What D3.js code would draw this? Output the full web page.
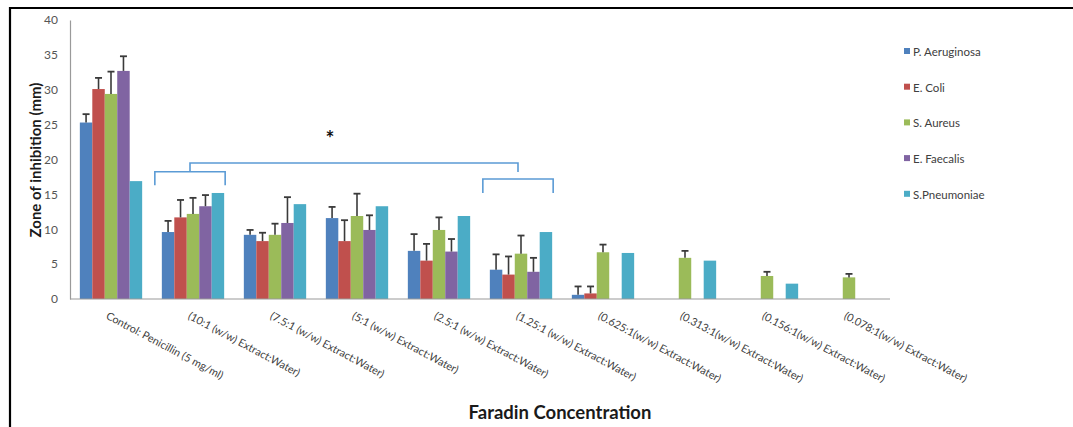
<!DOCTYPE html>
<html><head><meta charset="utf-8">
<script src="https://cdn.jsdelivr.net/npm/d3@7"></script>
<style>html,body{margin:0;padding:0;background:#fff;}svg{display:block;font-family:Lato,"Open Sans",sans-serif;}</style>
</head><body><svg id="c" width="1073" height="427"></svg>
<script>
const categories = ["Control: Penicillin (5 mg/ml)","(10:1 (w/w) Extract:Water)","(7.5:1 (w/w) Extract:Water)","(5:1 (w/w) Extract:Water)","(2.5:1 (w/w) Extract:Water)","(1.25:1 (w/w) Extract:Water)","(0.625:1(w/w) Extract:Water)","(0.313:1(w/w) Extract:Water)","(0.156:1(w/w) Extract:Water)","(0.078:1(w/w) Extract:Water)"];
const seriesNames = ["P. Aeruginosa","E. Coli","S. Aureus","E. Faecalis","S.Pneumoniae"];
const seriesColors = ["#4F81BD","#C0504D","#9BBB59","#8064A2","#4BACC6"];
const paValues = [25.3, 9.6, 9.2, 11.6, 6.9, 4.2, 0.6, 0, 0, 0];
const paErrors = [1.2, 1.6, 0.7, 1.6, 2.4, 2.2, 1.2, null, null, null];
const ecValues = [30.1, 11.7, 8.3, 8.3, 5.5, 3.5, 0.8, 0, 0, 0];
const ecErrors = [1.6, 2.5, 1.2, 3.0, 2.4, 2.6, 1.0, null, null, null];
const saValues = [29.4, 12.2, 9.2, 11.9, 9.9, 6.5, 6.7, 5.9, 3.3, 3.1];
const saErrors = [3.2, 2.3, 1.6, 3.2, 1.8, 2.6, 1.1, 1.0, 0.6, 0.5];
const efValues = [32.7, 13.3, 10.9, 9.9, 6.8, 3.9, 0, 0, 0, 0];
const efErrors = [2.1, 1.6, 3.7, 2.1, 1.8, 2.0, null, null, null, null];
const spValues = [16.9, 15.2, 13.6, 13.3, 11.9, 9.6, 6.6, 5.5, 2.2, 0];
const spErrors = [null, null, null, null, null, null, null, null, null, null];
const yTicks = [0, 5, 10, 15, 20, 25, 30, 35, 40];
const yTitle = "Zone of inhibition (mm)";
const xTitle = "Faradin Concentration";
// significance brackets: [category index, top value, leg bottom value]
const bracketA = {cat: 1, top: 18.25, bottom: 16.3};
const bracketB = {cat: 5, top: 17.2, bottom: 15.2};
const bracketJoin = {top: 19.5, bottom: 18.2};
const starLabel = "*";

const allValues = [paValues, ecValues, saValues, efValues, spValues];
const allErrors = [paErrors, ecErrors, saErrors, efErrors, spErrors];

const svg = d3.select("#c");
// frame lines (cropped figure border)
svg.append("line").attr("x1",10).attr("x2",1073).attr("y1",8).attr("y2",8).attr("stroke","#000").attr("stroke-width",2.2);
svg.append("line").attr("x1",10).attr("x2",10).attr("y1",7).attr("y2",427).attr("stroke","#000").attr("stroke-width",2.2);

const x = d3.scaleBand().domain(categories).range([70, 890]).paddingInner(0.24).paddingOuter(0.12);
const xs = d3.scaleBand().domain(seriesNames).range([0, x.bandwidth()]);
const y = d3.scaleLinear().domain([0, 40]).range([299, 20]);

// y axis
const yAxis = svg.append("g").attr("transform","translate(70,0)")
  .call(d3.axisLeft(y).tickValues(yTicks).tickSize(0).tickPadding(12));
yAxis.select(".domain").attr("stroke","#9a9a9a").attr("stroke-width",1.2);
yAxis.selectAll("text").attr("font-size",12).attr("fill","#555").attr("font-family","Lato,sans-serif");

// bars
seriesNames.forEach((s, si) => {
  const g = svg.append("g");
  g.selectAll("rect").data(categories.map((c, i) => ({c, v: allValues[si][i]})))
    .join("rect")
    .attr("x", d => x(d.c) + xs(s))
    .attr("y", d => y(d.v))
    .attr("width", xs.bandwidth())
    .attr("height", d => y(0) - y(d.v))
    .attr("fill", seriesColors[si]);
});
// error bars
seriesNames.forEach((s, si) => {
  const g = svg.append("g");
  categories.forEach((c, i) => {
    const e = allErrors[si][i];
    if (e == null) return;
    const v = allValues[si][i];
    const cx = x(c) + xs(s) + xs.bandwidth() / 2;
    g.append("line").attr("x1",cx).attr("x2",cx).attr("y1",y(v)).attr("y2",y(v+e)).attr("stroke","#3a3a3a").attr("stroke-width",1.6);
    g.append("line").attr("x1",cx-3.5).attr("x2",cx+3.5).attr("y1",y(v+e)).attr("y2",y(v+e)).attr("stroke","#3a3a3a").attr("stroke-width",1.8);
  });
});

// x axis line
svg.append("line").attr("x1",70).attr("x2",890).attr("y1",y(0)).attr("y2",y(0)).attr("stroke","#9a9a9a").attr("stroke-width",1.2);

// x labels
svg.append("g").selectAll("text").data(categories).join("text")
  .attr("transform", d => `translate(${x(d) + x.bandwidth()/2 - 2},${311}) rotate(28)`)
  .attr("dy","0.75em")
  .attr("font-size",10.8)
  .attr("fill","#404040")
  .text(d => d);

// brackets
const bColor = "#5b9bd5";
function bracket(b) {
  const x0 = x(categories[b.cat]) - 7, x1 = x(categories[b.cat]) + x.bandwidth() + 1;
  svg.append("path")
    .attr("d", `M${x0},${y(b.bottom)}V${y(b.top)}H${x1}V${y(b.bottom)}`)
    .attr("fill","none").attr("stroke",bColor).attr("stroke-width",1.6);
  return (x0 + x1) / 2;
}
const ma = bracket(bracketA);
const mb = bracket(bracketB);
svg.append("path")
  .attr("d", `M${ma},${y(bracketA.top)}V${y(bracketJoin.top)}H${mb}V${y(bracketJoin.bottom)}`)
  .attr("fill","none").attr("stroke",bColor).attr("stroke-width",1.6);
svg.append("text").attr("x",(ma+mb)/2 - 24).attr("y",146).attr("font-size",21).attr("font-weight","bold").attr("text-anchor","middle").attr("fill","#111").text(starLabel);

// legend
const lg = svg.append("g");
seriesNames.forEach((s, i) => {
  const ly = 52 + i * 35.7;
  lg.append("rect").attr("x",904).attr("y",ly-4).attr("width",6).attr("height",6).attr("fill",seriesColors[i]);
  lg.append("text").attr("x",913).attr("y",ly+4).attr("font-size",11.5).attr("fill","#404040").text(s);
});

// titles
svg.append("text").attr("x",560).attr("y",419).attr("text-anchor","middle").attr("font-size",18.5).attr("font-weight","bold").attr("fill","#1a1a1a").text(xTitle);
svg.append("text").attr("transform","translate(41,160) rotate(-90)").attr("text-anchor","middle").attr("font-size",15).attr("font-weight","bold").attr("fill","#1a1a1a").text(yTitle);
</script></body></html>
